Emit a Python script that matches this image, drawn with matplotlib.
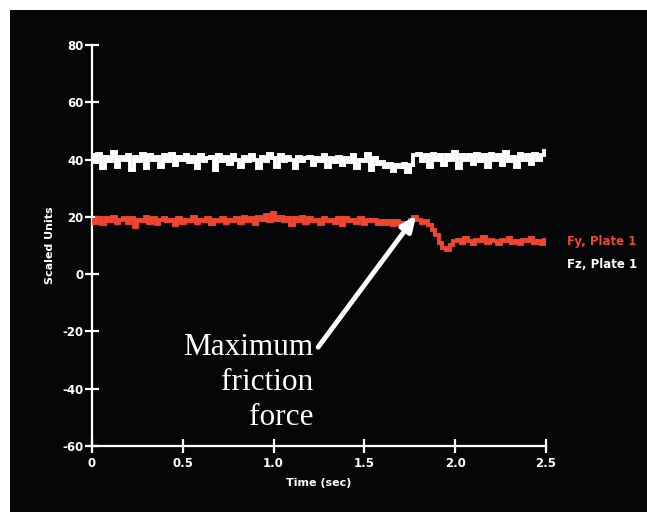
import numpy as np
import matplotlib
matplotlib.use("Agg")
import matplotlib.pyplot as plt

plt.rcParams["axes.unicode_minus"] = False

# ---- data ----
time_step = 0.02
fz_plate1 = [
    41.5, 39.0, 42.0, 37.0, 41.0, 39.5, 42.5, 37.5, 41.0, 40.0,
    41.5, 36.5, 41.0, 39.5, 42.0, 37.0, 41.5, 40.0, 41.0, 37.5,
    41.5, 39.5, 42.0, 38.0, 41.0, 40.0, 41.5, 39.0, 41.0, 37.0,
    41.5, 39.5, 40.5, 41.0, 36.5, 41.5, 39.5, 41.0, 38.5, 41.5,
    40.0, 37.5, 41.0, 39.5, 41.5, 40.0, 37.0, 41.0, 39.5, 42.0,
    40.5, 37.5, 41.5, 39.5, 41.0, 40.0, 37.0, 41.0, 39.5, 40.5,
    41.0, 38.0, 40.5, 39.5, 41.5, 37.5, 40.5, 39.0, 41.0, 38.0,
    40.5, 39.0, 41.5, 37.0, 40.0, 39.5, 42.0, 36.5, 40.5, 38.5,
    39.0, 37.5, 38.5, 36.0, 38.0, 37.5, 38.5, 35.5, 38.0, 41.5,
    42.0, 39.5, 41.5, 37.5, 42.0, 40.0, 41.5, 38.0, 41.5, 40.0,
    42.5, 37.0, 41.5, 40.0, 41.5, 38.5, 42.0, 39.5, 41.5, 37.5,
    42.0, 40.0, 41.5, 38.0, 42.5, 39.5, 41.0, 37.5, 42.0, 40.0,
    41.5, 38.5, 42.0, 40.0, 41.5, 43.0,
]
fy_plate1 = [
    19.0, 18.0, 19.5, 17.5, 19.5, 18.5, 20.0, 18.0, 19.0, 19.5,
    18.0, 19.5, 16.5, 19.0, 18.5, 20.0, 18.0, 19.5, 17.5, 19.0,
    19.5, 18.5, 19.0, 17.0, 19.5, 18.0, 19.0, 18.5, 20.0, 18.0,
    19.0, 18.5, 19.5, 17.5, 19.0, 18.5, 19.5, 18.0, 19.0, 18.5,
    19.5, 18.0, 20.0, 18.5, 19.5, 17.5, 20.0, 19.0, 20.5, 18.5,
    21.5, 19.0, 20.0, 18.5, 19.5, 17.0, 19.5, 18.5, 20.0, 18.0,
    19.5, 18.5, 19.0, 17.5, 19.5, 18.5, 19.0, 18.0, 19.5, 17.0,
    19.5, 18.5, 19.0, 18.0, 19.5, 17.5, 19.0, 18.5, 19.0, 17.5,
    18.5, 17.5, 18.5, 17.0, 18.5, 17.5, 18.0, 17.5, 19.0, 20.0,
    19.0, 18.0, 18.5, 17.0, 15.5, 13.5, 11.0, 9.0, 8.5, 10.0,
    11.5, 12.0, 11.0, 12.5, 11.5, 10.5, 12.0, 11.5, 13.0, 11.0,
    12.0, 11.5, 10.5, 12.0, 11.5, 12.5, 11.0, 11.5, 10.5, 12.0,
    11.5, 12.5, 11.0, 11.5, 10.5, 12.0,
]
x_ticks = [0, 0.5, 1.0, 1.5, 2.0, 2.5]
x_tick_labels = ["0", "0.5", "1.0", "1.5", "2.0", "2.5"]
y_ticks = [-60, -40, -20, 0, 20, 40, 60, 80]
series_names = ["Fy, Plate 1", "Fz, Plate 1"]

t = np.arange(len(fz_plate1)) * time_step

RED = "#f0452f"
W = "white"
SANS = "DejaVu Sans"

fig = plt.figure(figsize=(6.47, 5.12), dpi=100, facecolor="white")
bg = fig.add_axes([10 / 647, 0, 1 - 10 / 647, 1 - 10 / 512], zorder=0)
bg.set_facecolor("#050608")
bg.set_xticks([]); bg.set_yticks([])
for s in bg.spines.values():
    s.set_visible(False)

ax = fig.add_axes([92 / 647, 1 - 446 / 512, 454 / 647, 401 / 512], zorder=2)
ax.set_facecolor("none")
ax.plot(t, fz_plate1, color=W, lw=2.8, drawstyle="steps-mid", solid_joinstyle="miter", zorder=3)
ax.plot(t, fy_plate1, color=RED, lw=2.8, drawstyle="steps-mid", solid_joinstyle="miter", zorder=3)

ax.set_xlim(0, 2.5)
ax.set_ylim(-60, 80)
for s in ["top", "right"]:
    ax.spines[s].set_visible(False)
for s in ["left", "bottom"]:
    ax.spines[s].set_color(W)
    ax.spines[s].set_linewidth(1.6)
ax.set_xticks(x_ticks)
ax.set_xticklabels(x_tick_labels)
ax.set_yticks(y_ticks)
ax.tick_params(colors=W, direction="inout", length=10, width=1.6, labelsize=8.5)
ax.tick_params(axis="x", pad=3)
ax.tick_params(axis="y", pad=1)
for lab in ax.get_xticklabels() + ax.get_yticklabels():
    lab.set_fontweight("bold")
    lab.set_family(SANS)
ax.set_xlabel("Time (sec)", color=W, fontsize=8, fontweight="bold", family=SANS, labelpad=6)
ax.set_ylabel("Scaled Units", color=W, fontsize=8, fontweight="bold", family=SANS, labelpad=5)

# legend-like labels on the right
fig.text(567 / 647, 1 - 241 / 512, series_names[0], color=RED, fontsize=8.5, fontweight="bold",
         family=SANS, va="center", ha="left", zorder=5)
fig.text(567 / 647, 1 - 265 / 512, series_names[1], color=W, fontsize=8.5, fontweight="bold",
         family=SANS, va="center", ha="left", zorder=5)

# annotation
ax.annotate("", xy=(t[89] + 0.005, fy_plate1[89] + 0.5), xytext=(1.245, -25.5),
            arrowprops=dict(arrowstyle="-|>,head_length=0.9,head_width=0.4", color=W, lw=3.5,
                            shrinkA=0, shrinkB=0), zorder=5)
fig.text(313 / 647, 1 - 333 / 512, "Maximum\nfriction\nforce", color=W, fontsize=22.5,
         family="Liberation Serif", ha="right", va="top", linespacing=1.27, zorder=5)

fig.savefig("out.png", dpi=100, facecolor=fig.get_facecolor())
